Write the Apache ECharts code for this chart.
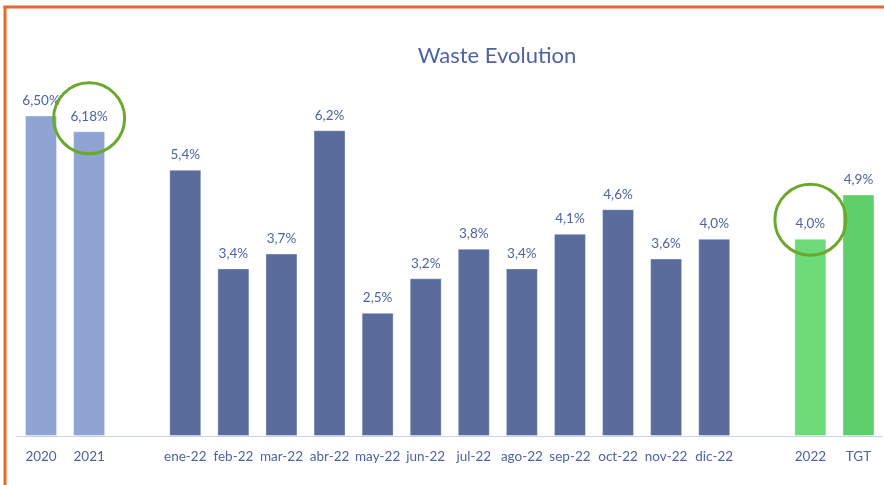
<!DOCTYPE html>
<html><head><meta charset="utf-8">
<script src="https://cdn.jsdelivr.net/npm/echarts@6/dist/echarts.min.js"></script>
<style>html,body{margin:0;padding:0;background:#fff}#c{width:884px;height:485px}</style>
</head><body><div id="c"></div>
<script>
const categories = ['2020','2021','','ene-22','feb-22','mar-22','abr-22','may-22','jun-22','jul-22','ago-22','sep-22','oct-22','nov-22','dic-22','','2022','TGT'];
const values = [6.50,6.18,null,5.4,3.4,3.7,6.2,2.5,3.2,3.8,3.4,4.1,4.6,3.6,4.0,null,4.0,4.9];
const labelDecimals = [2,2,0,1,1,1,1,1,1,1,1,1,1,1,1,0,1,1];
const barGroups = ['year','year','','month','month','month','month','month','month','month','month','month','month','month','month','','ytd','target'];
const highlighted = ['2021','2022'];
const highlightOffsets = [-13,-19];

const groupColors = {year:'#8fa4d3', month:'#5a6c9b', ytd:'#6ddb78', target:'#5ecf6a'};
const textColor = '#4d63a2';

const chart = echarts.init(document.getElementById('c'), null, {renderer:'canvas'});
chart.setOption({
  animation:false,
  backgroundColor:'#fff',
  title:{text:'Waste Evolution', left:492, top:40, textAlign:'center',
    textStyle:{fontFamily:'Lato', fontSize:22, fontWeight:'normal', color:textColor}},
  grid:{left:17, right:1.5, bottom:49, height:394.4, containLabel:false},
  xAxis:{type:'category', data:categories,
    axisLine:{lineStyle:{color:'#c9d5ef', width:1}},
    axisTick:{show:false},
    axisLabel:{color:textColor, fontFamily:'Lato', fontSize:13.5, margin:14, interval:0}},
  yAxis:{type:'value', min:0, max:8, show:false, splitLine:{show:false}},
  series:[{
    type:'bar', data:values, barWidth:32,
    itemStyle:{color:p=>groupColors[barGroups[p.dataIndex]], borderColor:'rgba(255,255,255,0.35)', borderWidth:1},
    label:{show:true, position:'top', distance:8, color:textColor, fontFamily:'Lato', fontSize:13.5,
      formatter:p=>p.value==null?'':p.value.toFixed(labelDecimals[p.dataIndex]).replace('.',',')+'%'},
    markPoint:{silent:true, symbol:'circle', symbolSize:71,
      itemStyle:{color:'rgba(0,0,0,0)', borderColor:'#6aa92c', borderWidth:3},
      label:{show:false},
      data:highlighted.map((c,i)=>({coord:[c, values[categories.indexOf(c)]], symbolOffset:[0, highlightOffsets[i]]}))}
  }],
  graphic:[
    {type:'line', shape:{x1:5, y1:6, x2:5, y2:485}, style:{stroke:'#e8692a', lineWidth:3}},
    {type:'line', shape:{x1:3.5, y1:7, x2:884, y2:7}, style:{stroke:'#e8692a', lineWidth:3}}
  ]
});
</script></body></html>
